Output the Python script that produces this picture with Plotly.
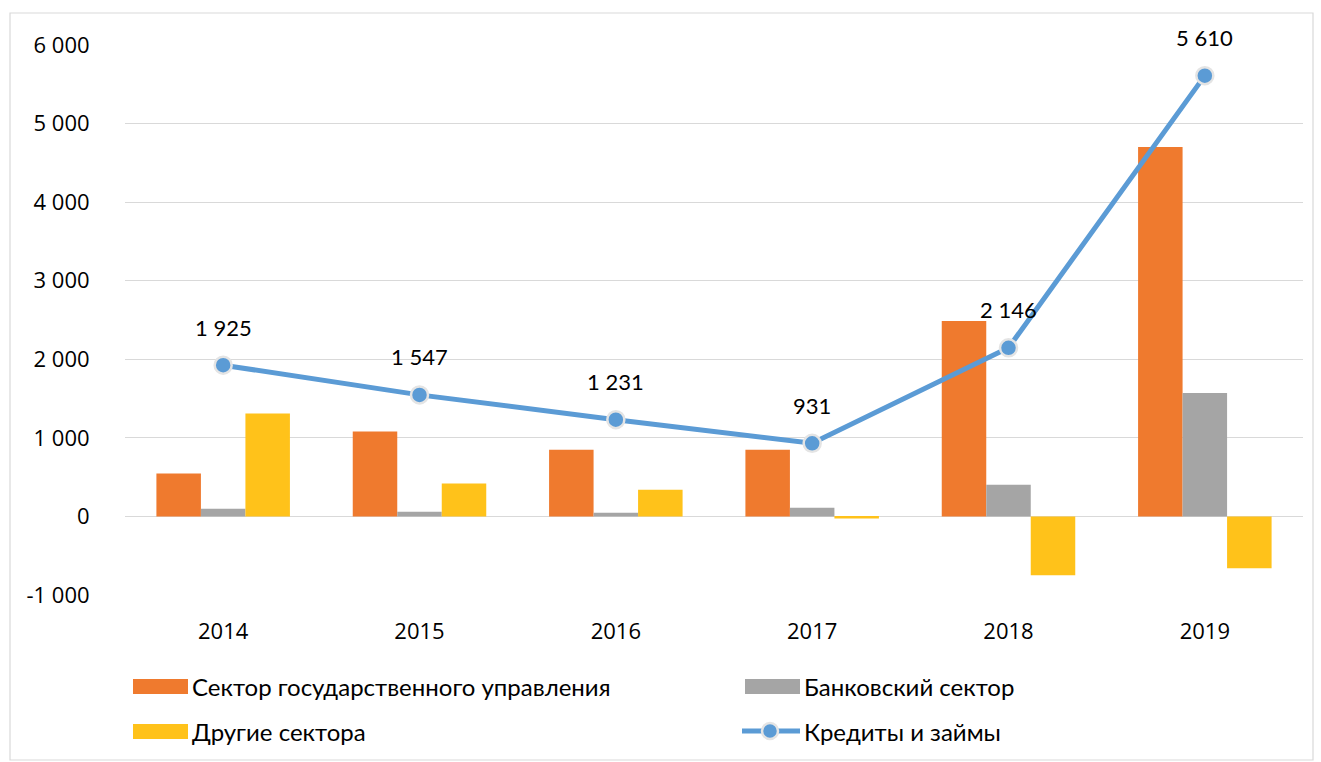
import plotly.graph_objects as go

years = ["2014", "2015", "2016", "2017", "2018", "2019"]
gov = [545, 1080, 850, 848, 2488, 4703]
bank = [98, 60, 47, 110, 403, 1572]
other = [1310, 418, 340, -25, -750, -660]
loans = [1925, 1547, 1231, 931, 2146, 5610]
names = ["Сектор государственного управления", "Банковский сектор", "Другие сектора", "Кредиты и займы"]
ytickvals = [-1000, 0, 1000, 2000, 3000, 4000, 5000, 6000]
yticktext = ["-1 000", "0", "1 000", "2 000", "3 000", "4 000", "5 000", "6 000"]

C_ORANGE = "#EF7A2E"
C_GRAY = "#A5A5A5"
C_YELLOW = "#FFC21A"
C_BLUE = "#5B9BD5"
FONT = "Lato"
TFONT = "Open Sans"

def fmt(v):
    return f"{v:,}".replace(",", " ")

fig = go.Figure()
fig.add_bar(x=years, y=gov, name=names[0], marker=dict(color=C_ORANGE, line=dict(width=0)))
fig.add_bar(x=years, y=bank, name=names[1], marker=dict(color=C_GRAY, line=dict(width=0)))
fig.add_bar(x=years, y=other, name=names[2], marker=dict(color=C_YELLOW, line=dict(width=0)))
fig.add_scatter(x=years, y=loans, name=names[3], mode="lines+markers",
                line=dict(color=C_BLUE, width=5),
                marker=dict(size=17, color=C_BLUE, line=dict(color="#E4E4E4", width=2.5)))

W, H = 1321, 762
L, R, T, B = 125, 1303, 45, 595

def px(x):
    return (x - L) / (R - L)

def py(y):
    return (B - y) / (B - T)

annotations = []
for i, v in enumerate(loans):
    annotations.append(dict(x=i, y=v, xref="x", yref="y", text=fmt(v), showarrow=False,
                            yshift=38, font=dict(family=FONT, size=22, color="#000000")))

shapes = [
    dict(type="rect", xref="paper", yref="paper", x0=px(10), x1=px(1313), y0=py(760), y1=py(13),
         line=dict(color="#D9D9D9", width=1.2), fillcolor="rgba(0,0,0,0)", layer="below"),
]

legend_items = [
    (133, 686, C_ORANGE, names[0], "bar"),
    (745, 686, C_GRAY, names[1], "bar"),
    (133, 731, C_YELLOW, names[2], "bar"),
    (745, 731, C_BLUE, names[3], "line"),
]
for lx, ly, col, label, kind in legend_items:
    if kind == "bar":
        shapes.append(dict(type="rect", xref="paper", yref="paper", x0=px(lx), x1=px(lx + 55),
                           y0=py(ly + 8), y1=py(ly - 7), fillcolor=col, line=dict(width=0)))
    else:
        shapes.append(dict(type="line", xref="paper", yref="paper", x0=px(lx - 3), x1=px(lx + 55),
                           y0=py(ly), y1=py(ly), line=dict(color=col, width=5)))
        shapes.append(dict(type="circle", xref="paper", yref="paper", x0=px(lx + 17), x1=px(lx + 33),
                           y0=py(ly + 8), y1=py(ly - 8), fillcolor=col, line=dict(color="#E4E4E4", width=2.5)))
    annotations.append(dict(x=px(lx + 57), y=py(ly), xref="paper", yref="paper", text=label,
                            showarrow=False, xanchor="left", yanchor="middle",
                            font=dict(family=FONT, size=24, color="#000000")))

fig.update_layout(
    width=W, height=H,
    margin=dict(l=L, r=W - R, t=T, b=H - B, pad=0),
    paper_bgcolor="white", plot_bgcolor="white",
    barmode="group", bargap=0.32, bargroupgap=0,
    showlegend=False,
    font=dict(family=FONT, color="#000000"),
    annotations=annotations, shapes=shapes,
)
fig.update_yaxes(range=[-1000, 6000], tickvals=ytickvals, ticktext=yticktext,
                 showgrid=True, gridcolor="#D9D9D9", gridwidth=1.2, zeroline=True,
                 zerolinecolor="#D9D9D9", zerolinewidth=1.2,
                 ticks="outside", ticklen=30, tickcolor="rgba(0,0,0,0)",
                 tickfont=dict(family=TFONT, size=22, color="#000000"),
                 showline=False)
fig.update_xaxes(type="category", range=[-0.5, len(years) - 0.5], showgrid=False, showline=False,
                 ticks="outside", ticklen=17, tickcolor="rgba(0,0,0,0)",
                 tickfont=dict(family=TFONT, size=22, color="#000000"))

fig.write_html("out.html", config={"displayModeBar": False},
               post_script="document.body.style.margin='0';document.body.style.overflow='hidden';")
